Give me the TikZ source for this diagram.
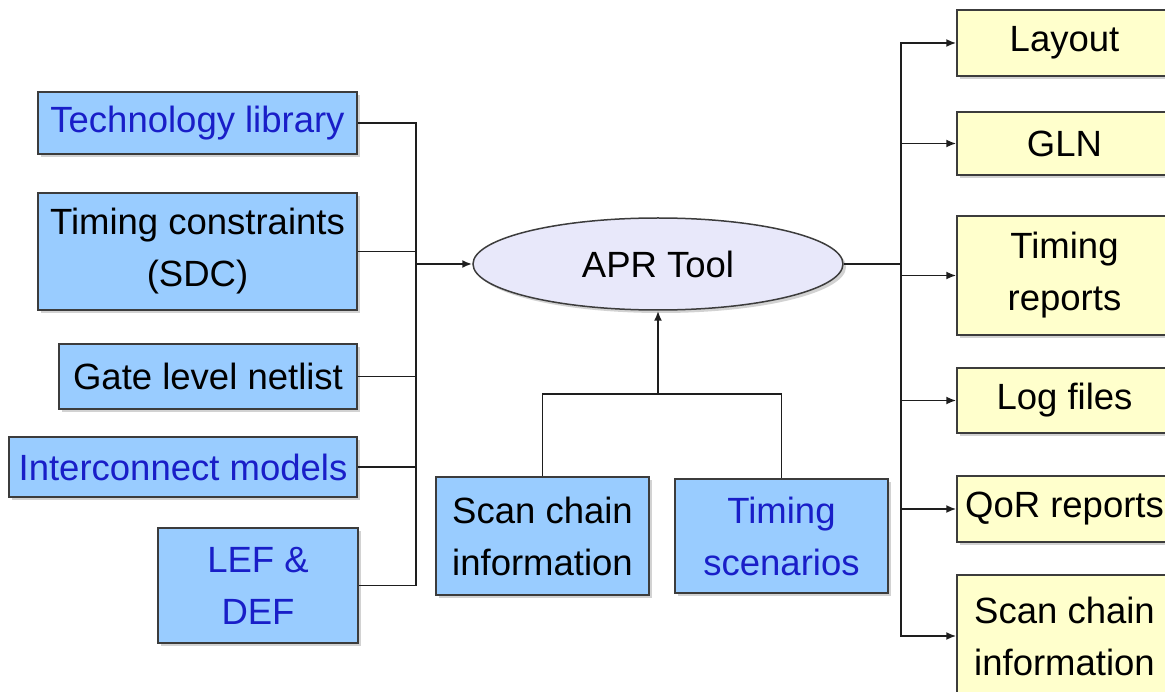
\documentclass[tikz,border=0pt]{standalone}
\usepackage{fontspec}
\setmainfont{Liberation Sans}
\usetikzlibrary{shapes.geometric,arrows.meta,shadows}
\definecolor{inblue}{RGB}{153,204,255}
\definecolor{outyellow}{RGB}{255,255,204}
\definecolor{toolfill}{RGB}{232,232,250}
\definecolor{edgegray}{RGB}{60,60,60}
\definecolor{linkblue}{RGB}{25,30,200}
\definecolor{wire}{RGB}{30,30,30}
\tikzset{
  boxbase/.style={draw=edgegray, line width=1.5pt, inner sep=0pt, align=center,
    font=\fontsize{36.5}{52}\selectfont,
    drop shadow={opacity=0.35, shadow xshift=3pt, shadow yshift=-3pt}},
  inbox/.style={boxbase, rectangle, fill=inblue},
  outbox/.style={boxbase, rectangle, fill=outyellow, minimum width=215pt},
  toolnode/.style={boxbase, ellipse, fill=toolfill, minimum width=370pt, minimum height=92pt},
  bluetext/.style={text=linkblue},
  link/.style={draw=wire, line width=1.8pt},
  mainlink/.style={draw=wire, line width=2.6pt},
  tip/.style={-{Latex[length=10pt,width=8pt]}}
}
\begin{document}
\begin{tikzpicture}[x=1pt,y=-1pt]
\useasboundingbox (0,0) rectangle (1165,692);
\clip (0,0) rectangle (1165,692);
\fill[white] (0,0) rectangle (1165,692);

% inputs on the left
\node[inbox, bluetext, minimum width=319pt, minimum height=62pt] (tech) at (197.5,123) {Technology library};
\node[inbox, minimum width=319pt, minimum height=117pt] (tcons) at (197.5,251.5) {Timing constraints\\(SDC)};
\node[inbox, minimum width=298pt, minimum height=65pt] (gate) at (208,376.5) {Gate level netlist};
\node[inbox, bluetext, minimum width=348pt, minimum height=60pt] (inter) at (183,467) {Interconnect models};
\node[inbox, bluetext, minimum width=200pt, minimum height=115pt] (lef) at (258,585.5) {LEF \&\\DEF};

% inputs below the tool
\node[inbox, minimum width=213pt, minimum height=118pt] (scan) at (542.5,536) {Scan chain\\information};
\node[inbox, bluetext, minimum width=213pt, minimum height=114pt] (tscen) at (781.5,536) {Timing\\scenarios};

% the tool
\node[toolnode] (apr) at (658,264) {APR Tool};

% outputs on the right
\node[outbox, minimum height=66pt] (layout) at (1064.5,43) {Layout};
\node[outbox, minimum height=63pt] (gln) at (1064.5,143.5) {GLN};
\node[outbox, minimum height=119pt] (trep) at (1064.5,275.5) {Timing\\reports};
\node[outbox, minimum height=65pt] (logf) at (1064.5,400.5) {Log files};
\node[outbox, minimum height=66pt] (qor) at (1064.5,509) {QoR reports};
\node[outbox, minimum height=122pt] (scanout) at (1064.5,636) {Scan chain\\information};

% junction points
\coordinate (lj) at (416,264);
\coordinate (rj) at (901,264);
\coordinate (bj) at (658,394);

% left bus into the tool
\draw[link] (tech.east) -| (lj);
\draw[link] (tcons.east) -| (lj);
\draw[link] (gate.east) -| (lj);
\draw[link] (inter.east) -| (lj);
\draw[link] (lef.east) -| (lj);
\draw[mainlink, tip] (lj) -- (apr.west);

% bottom inputs
\draw[link] (scan.north) |- (bj) -| (tscen.north);
\draw[mainlink, tip] (bj) -- (apr.south);

% right bus out of the tool
\draw[mainlink] (apr.east) -- (rj);
\draw[link, tip] (rj) |- (layout.west);
\draw[link, tip] (rj) |- (gln.west);
\draw[link, tip] (rj) |- (trep.west);
\draw[link, tip] (rj) |- (logf.west);
\draw[link, tip] (rj) |- (qor.west);
\draw[link, tip] (rj) |- (scanout.west);
\end{tikzpicture}
\end{document}
